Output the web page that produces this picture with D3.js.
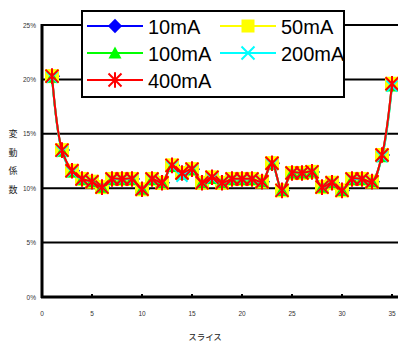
<!DOCTYPE html>
<html><head><meta charset="utf-8">
<script src="https://cdn.jsdelivr.net/npm/d3@7"></script>
<style>body{margin:0;background:#fff;}svg{display:block;font-family:"Liberation Sans",Arial,sans-serif;}</style>
</head><body><svg id="c" width="398" height="343"></svg>
<script>
const slices = d3.range(1, 36);
const v400 = [20.3,13.5,11.6,10.85,10.6,10.1,10.85,10.85,10.85,9.9,10.85,10.5,12.1,11.4,11.75,10.5,11.0,10.5,10.85,10.85,10.85,10.6,12.3,9.8,11.4,11.4,11.5,10.1,10.5,9.8,10.85,10.85,10.6,13.05,19.6];
const v200 = [20.2,13.4,11.5,10.8,10.6,10.1,10.8,10.8,10.8,9.9,10.8,10.5,12.0,11.1,11.7,10.5,10.9,10.5,10.8,10.8,10.8,10.6,12.2,9.8,11.4,11.4,11.5,10.1,10.5,9.8,10.8,10.8,10.6,12.9,19.4];
const v100 = [20.2,13.4,11.5,10.8,10.6,10.1,10.8,10.8,10.8,9.9,10.8,10.5,12.0,11.3,11.7,10.5,10.9,10.5,10.8,10.8,10.8,10.6,12.2,9.8,11.4,11.4,11.5,10.1,10.5,9.8,10.8,10.8,10.6,12.9,19.4];
const v50  = [20.3,13.5,11.6,10.85,10.6,10.1,10.85,10.85,10.85,9.9,10.85,10.5,12.1,11.4,11.75,10.5,11.0,10.5,10.85,10.85,10.85,10.6,12.3,9.8,11.4,11.4,11.5,10.1,10.5,9.8,10.85,10.85,10.6,13.05,19.6];
const v10  = [20.3,13.5,11.6,10.85,10.6,10.1,10.85,10.85,10.85,9.9,10.85,10.5,12.1,11.4,11.75,10.5,11.0,10.5,10.85,10.85,10.85,10.6,12.3,9.8,11.4,11.4,11.5,10.1,10.5,9.8,10.85,10.85,10.6,13.05,19.6];
const seriesNames = ["10mA","50mA","100mA","200mA","400mA"];
const seriesColors = ["#0000ff","#ffff00","#00ff00","#00ffff","#ff0000"];
const seriesValues = [v10, v50, v100, v200, v400];
const yTicks = [0,5,10,15,20,25];
const xTicks = [0,5,10,15,20,25,30,35];
const yTitle = ["変","動","係","数"];
const xTitle = "スライス";

const svg = d3.select("#c");
const x = d3.scaleLinear().domain([0,35]).range([42,392]);
const y = d3.scaleLinear().domain([0,25]).range([297,25]);

svg.append("g").selectAll("line").data(yTicks.filter(d=>d>0)).join("line")
  .attr("x1",42).attr("x2",400).attr("y1",d=>y(d)).attr("y2",d=>y(d))
  .attr("stroke","#000").attr("stroke-width",2);
svg.append("line").attr("x1",42).attr("x2",42).attr("y1",y(25)-1).attr("y2",y(0)+1).attr("stroke","#000").attr("stroke-width",3);
svg.append("line").attr("x1",41).attr("x2",400).attr("y1",y(0)).attr("y2",y(0)).attr("stroke","#000").attr("stroke-width",3);
svg.append("g").selectAll("rect").data(xTicks.filter(d=>d>0)).join("rect")
  .attr("x",d=>x(d)-1).attr("y",y(0)-3).attr("width",2).attr("height",2).attr("fill","#000");
svg.append("g").selectAll("text").data(yTicks).join("text")
  .attr("x",36).attr("y",d=>y(d)+2.5).attr("text-anchor","end")
  .attr("font-size",6.5).attr("fill","#333").text(d=>d+"%");
svg.append("g").selectAll("text").data(xTicks).join("text")
  .attr("x",d=>x(d)).attr("y",316).attr("text-anchor","middle")
  .attr("font-size",6.5).attr("fill","#333").text(d=>d);
svg.append("g").selectAll("text").data(yTitle).join("text")
  .attr("x",13).attr("y",(d,i)=>137+i*18.7).attr("text-anchor","middle")
  .attr("font-family","Noto Sans CJK JP").attr("font-size",9).attr("fill","#222").text(d=>d);
svg.append("text").attr("x",205).attr("y",340).attr("text-anchor","middle")
  .attr("font-family","Noto Sans CJK JP").attr("font-size",8.5).attr("fill","#222").text(xTitle);

function marker(g, i, cx, cy, s){
  const c = seriesColors[i];
  if(i===0){ g.append("path").attr("d",`M${cx},${cy-s*1.1}L${cx+s*1.1},${cy}L${cx},${cy+s*1.1}L${cx-s*1.1},${cy}Z`).attr("fill",c); }
  else if(i===1){ g.append("rect").attr("x",cx-s).attr("y",cy-s).attr("width",2*s).attr("height",2*s).attr("fill",c); }
  else if(i===2){ g.append("path").attr("d",`M${cx},${cy-s}L${cx+s},${cy+s*0.85}L${cx-s},${cy+s*0.85}Z`).attr("fill",c); }
  else if(i===3){ g.append("path").attr("d",`M${cx-s},${cy-s}L${cx+s},${cy+s}M${cx+s},${cy-s}L${cx-s},${cy+s}`).attr("stroke",c).attr("stroke-width",2); }
  else { g.append("path").attr("d",`M${cx-s},${cy-s}L${cx+s},${cy+s}M${cx+s},${cy-s}L${cx-s},${cy+s}M${cx},${cy-s*1.2}L${cx},${cy+s*1.2}`).attr("stroke",c).attr("stroke-width",2); }
}

const line = d3.line().x((d,i)=>x(slices[i])).y(d=>y(d)).curve(d3.curveCatmullRom);
seriesValues.forEach((vals,i)=>{
  const g = svg.append("g");
  g.append("path").attr("d",line(vals)).attr("fill","none").attr("stroke",seriesColors[i]).attr("stroke-width",2);
  const s = [6,7,6.5,5.5,6.5][i];
  vals.forEach((v,j)=>{ marker(g, i, x(slices[j]) + (i===0?1.5:0), y(v), s); });
});

const lg = svg.append("g");
lg.append("rect").attr("x",82).attr("y",11).attr("width",262).attr("height",86).attr("fill","#fff").attr("stroke","#000").attr("stroke-width",2);
const pos = [[0,0],[1,0],[0,1],[1,1],[0,2]];
seriesNames.forEach((n,i)=>{
  const lx = 87 + pos[i][0]*133, ly = 26 + pos[i][1]*27;
  lg.append("line").attr("x1",lx).attr("x2",lx+56).attr("y1",ly).attr("y2",ly).attr("stroke",seriesColors[i]).attr("stroke-width",2);
  marker(lg, i, lx+28, ly, 6.5);
  lg.append("text").attr("x",lx+61).attr("y",ly+7.5).attr("font-size",20).attr("fill","#000").text(n);
});
</script></body></html>
